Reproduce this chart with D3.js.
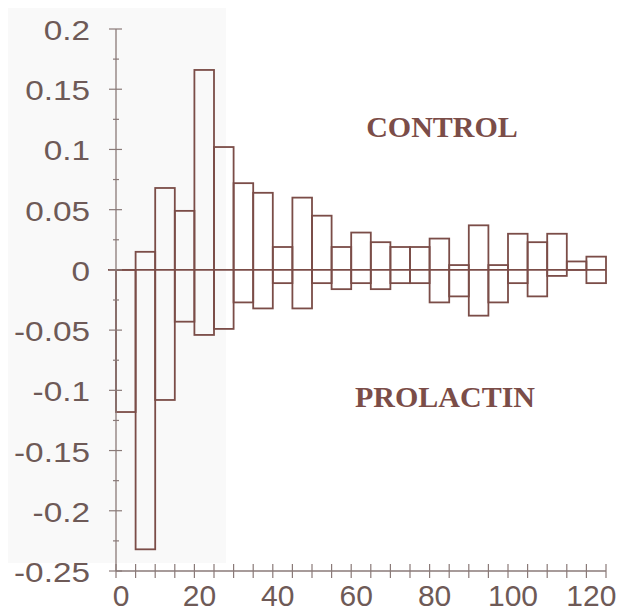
<!DOCTYPE html>
<html>
<head>
<meta charset="utf-8">
<script src="https://cdn.jsdelivr.net/npm/d3@7"></script>
<style>
  body { margin: 0; background: #fff; }
</style>
</head>
<body>
<svg id="chart" width="622" height="612"></svg>
<script>
// lag (start of each 5-unit bin), control and prolactin values
var lags = [0, 5, 10, 15, 20, 25, 30, 35, 40, 45, 50, 55, 60, 65, 70, 75, 80, 85, 90, 95, 100, 105, 110, 115, 120]
var control = [0, 0.015, 0.068, 0.049, 0.166, 0.102, 0.072, 0.064, 0.019, 0.060, 0.045, 0.019, 0.031, 0.023, 0.019, 0.019, 0.026, 0.004, 0.037, 0.004, 0.030, 0.023, 0.030, 0.007, 0.011]
var prolactin = [-0.118, -0.232, -0.108, -0.043, -0.054, -0.049, -0.027, -0.032, -0.011, -0.032, -0.011, -0.016, -0.011, -0.016, -0.011, -0.011, -0.027, -0.022, -0.038, -0.027, -0.011, -0.022, -0.005, 0, -0.011]
var binWidth = 5

var yTicks = [0.2, 0.15, 0.1, 0.05, 0, -0.05, -0.1, -0.15, -0.2, -0.25]
var yLabels = ["0.2", "0.15", "0.1", "0.05", "0", "-0.05", "-0.1", "-0.15", "-0.2", "-0.25"]
var yMinor = [0.175, 0.125, 0.075, 0.025, -0.025, -0.075, -0.125, -0.175, -0.225]
var xTicks = d3.range(0, 126, 5)
var xLabels = [0, 20, 40, 60, 80, 100, 120]

var brown = "#7b4d48"
var axisCol = "#8a7a78"
var labelCol = "#6e5a57"

var svg = d3.select("#chart")

var x = d3.scaleLinear().domain([0, 125]).range([116, 606])
var y = d3.scaleLinear().domain([-0.25, 0.2]).range([571, 29])

// faint panel behind the left part
svg.append("rect")
    .attr("x", 8).attr("y", 8)
    .attr("width", 218).attr("height", 555)
    .attr("fill", "#f9f9f9")

// bars: box from control value down to prolactin value
svg.selectAll("rect.bar")
    .data(lags).enter()
    .append("rect")
        .attr("class", "bar")
        .attr("x", function(d){ return x(d) })
        .attr("width", function(d){ return x(d + binWidth) - x(d) })
        .attr("y", function(d, i){ return y(control[i]) })
        .attr("height", function(d, i){ return y(prolactin[i]) - y(control[i]) })
        .attr("fill", "none")
        .attr("stroke", brown)
        .attr("stroke-width", 1.8)

// zero line
svg.append("line")
    .attr("x1", x(0) - 8).attr("x2", x(125))
    .attr("y1", y(0)).attr("y2", y(0))
    .attr("stroke", brown)
    .attr("stroke-width", 1.8)

// y axis
var yAxis = svg.append("g")
yAxis.append("line")
    .attr("x1", x(0)).attr("x2", x(0))
    .attr("y1", y(0.2)).attr("y2", y(-0.25))
    .attr("stroke", axisCol).attr("stroke-width", 1.3)
yAxis.selectAll("line.major")
    .data(yTicks).enter()
    .append("line")
        .attr("x1", x(0) - 7).attr("x2", x(0) + 6)
        .attr("y1", function(d){ return y(d) }).attr("y2", function(d){ return y(d) })
        .attr("stroke", axisCol).attr("stroke-width", 1.2)
yAxis.selectAll("line.minor")
    .data(yMinor).enter()
    .append("line")
        .attr("x1", x(0) - 3).attr("x2", x(0) + 3)
        .attr("y1", function(d){ return y(d) }).attr("y2", function(d){ return y(d) })
        .attr("stroke", axisCol).attr("stroke-width", 1.2)
yAxis.selectAll("text")
    .data(yTicks).enter()
    .append("text")
        .attr("x", 90)
        .attr("y", function(d){ return y(d) + 11 })
        .attr("text-anchor", "end")
        .attr("font-family", "Liberation Sans, Arial, sans-serif")
        .attr("font-size", 28)
        .attr("fill", labelCol)
        .text(function(d, i){ return yLabels[i] })
        .each(function(){
            var w = this.getComputedTextLength()
            d3.select(this).attr("textLength", w * 1.19).attr("lengthAdjust", "spacingAndGlyphs")
        })

// x axis
var xAxis = svg.append("g")
xAxis.append("line")
    .attr("x1", x(0)).attr("x2", x(125))
    .attr("y1", y(-0.25)).attr("y2", y(-0.25))
    .attr("stroke", axisCol).attr("stroke-width", 1.3)
xAxis.selectAll("line.tick")
    .data(xTicks).enter()
    .append("line")
        .attr("x1", function(d){ return x(d) }).attr("x2", function(d){ return x(d) })
        .attr("y1", y(-0.25) - 7).attr("y2", y(-0.25) + 7)
        .attr("stroke", axisCol).attr("stroke-width", 1.2)
xAxis.selectAll("text")
    .data(xLabels).enter()
    .append("text")
        .attr("x", function(d){ return x(d) + 5 })
        .attr("y", 606)
        .attr("text-anchor", "middle")
        .attr("font-family", "Liberation Sans, Arial, sans-serif")
        .attr("font-size", 30)
        .attr("fill", labelCol)
        .text(function(d){ return d })

// series labels
svg.append("text")
    .attr("x", 442).attr("y", 137)
    .attr("text-anchor", "middle")
    .attr("font-family", "Liberation Serif, Times New Roman, serif")
    .attr("font-weight", "bold")
    .attr("font-size", 30)
    .attr("fill", brown)
    .text("CONTROL")

svg.append("text")
    .attr("x", 445).attr("y", 407)
    .attr("text-anchor", "middle")
    .attr("font-family", "Liberation Serif, Times New Roman, serif")
    .attr("font-weight", "bold")
    .attr("font-size", 30)
    .attr("fill", brown)
    .text("PROLACTIN")
</script>
</body>
</html>
